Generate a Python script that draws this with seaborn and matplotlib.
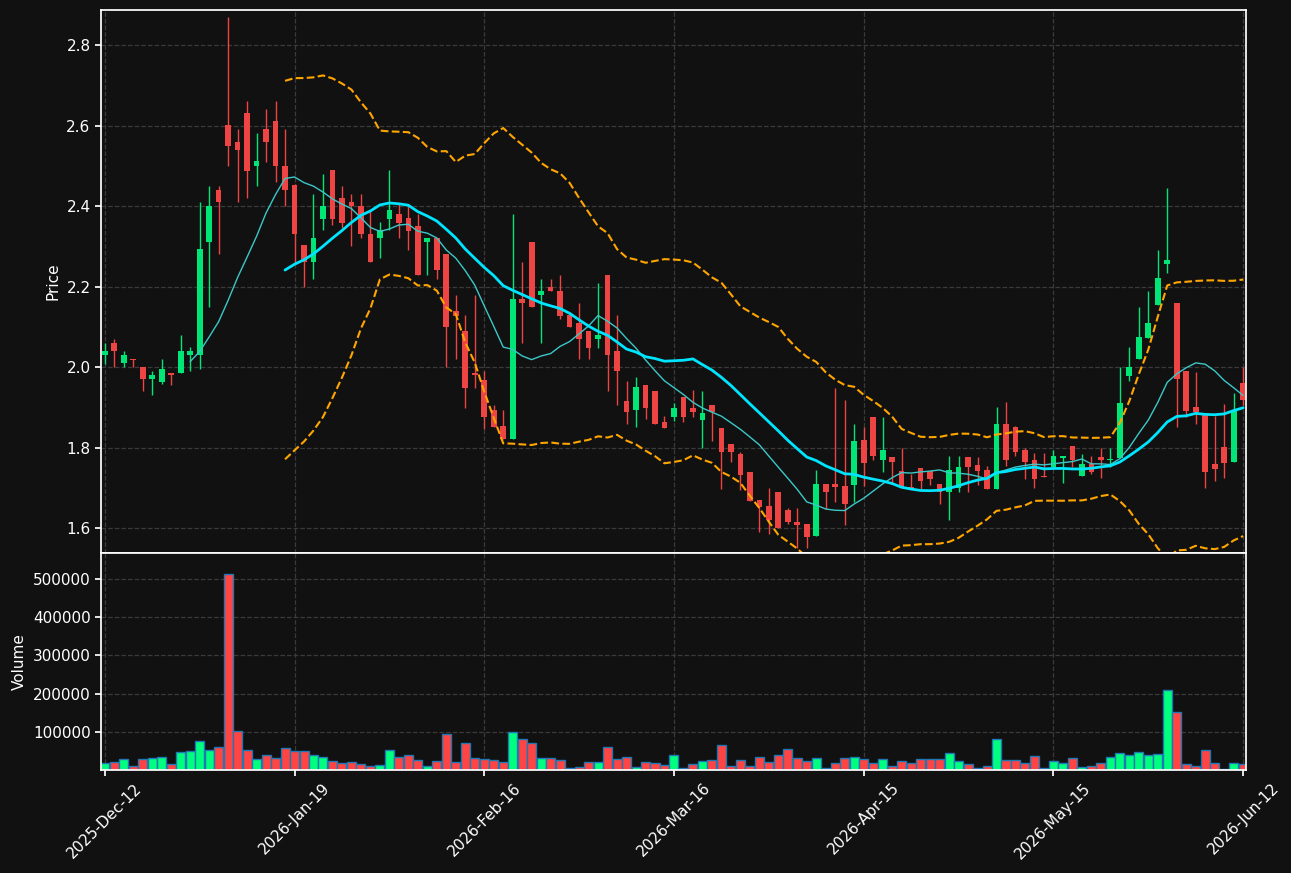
import numpy as np
import pandas as pd
import matplotlib
matplotlib.use("Agg")
import matplotlib.pyplot as plt
import seaborn as sns

opens = [2.029,2.059,2.009,2.020,2.000,1.970,1.964,1.986,1.984,2.029,
         2.029,2.310,2.440,2.602,2.560,2.632,2.499,2.592,2.612,2.500,
         2.451,2.302,2.260,2.369,2.490,2.421,2.411,2.401,2.331,2.320,
         2.369,2.381,2.371,2.351,2.310,2.321,2.281,2.139,2.090,1.986,
         1.967,1.893,1.854,1.822,2.170,2.311,2.178,2.200,2.190,2.130,
         2.110,2.090,2.069,2.228,2.040,1.916,1.893,1.956,1.941,1.864,
         1.877,1.925,1.899,1.869,1.906,1.849,1.810,1.785,1.739,1.670,
         1.656,1.690,1.645,1.615,1.610,1.579,1.710,1.710,1.705,1.706,
         1.819,1.876,1.768,1.776,1.742,1.703,1.749,1.742,1.710,1.689,
         1.700,1.776,1.756,1.744,1.697,1.858,1.851,1.793,1.769,1.730,
         1.751,1.775,1.804,1.730,1.760,1.776,1.768,1.773,1.978,2.019,
         2.072,2.153,2.255,2.160,1.991,1.901,1.880,1.760,1.802,1.765,1.961]
highs = [2.059,2.070,2.040,2.021,2.000,1.990,2.021,1.986,2.080,2.049,
         2.411,2.450,2.450,2.870,2.591,2.661,2.582,2.641,2.661,2.591,
         2.455,2.300,2.430,2.480,2.490,2.450,2.430,2.430,2.387,2.360,
         2.489,2.405,2.399,2.380,2.321,2.321,2.281,2.179,2.130,2.179,
         1.990,1.906,1.893,2.381,2.261,2.311,2.219,2.219,2.228,2.130,
         2.158,2.090,2.209,2.228,2.130,1.965,1.975,1.956,1.941,1.879,
         1.910,1.925,1.944,1.941,1.906,1.849,1.810,1.788,1.739,1.670,
         1.699,1.690,1.650,1.650,1.610,1.745,1.710,1.949,1.918,1.858,
         1.850,1.876,1.877,1.776,1.800,1.734,1.749,1.742,1.710,1.780,
         1.780,1.776,1.776,1.754,1.901,1.913,1.854,1.798,1.786,1.786,
         1.795,1.780,1.804,1.783,1.780,1.800,1.800,2.000,2.049,2.149,
         2.188,2.291,2.445,2.160,1.991,1.987,1.880,1.878,1.908,1.935,2.000]
lows = [2.008,2.000,2.000,2.000,1.941,1.930,1.959,1.955,1.984,1.990,
        1.995,2.149,2.280,2.500,2.410,2.419,2.450,2.509,2.460,2.400,
        2.256,2.199,2.219,2.340,2.353,2.345,2.300,2.320,2.260,2.270,
        2.340,2.320,2.290,2.228,2.228,2.219,2.000,2.020,1.897,1.949,
        1.847,1.852,1.822,1.822,2.060,2.149,2.060,2.188,2.120,2.099,
        2.020,2.020,2.048,1.941,1.906,1.859,1.852,1.872,1.858,1.848,
        1.867,1.864,1.877,1.800,1.817,1.698,1.763,1.694,1.668,1.589,
        1.584,1.600,1.609,1.550,1.550,1.579,1.647,1.665,1.608,1.665,
        1.704,1.769,1.740,1.713,1.703,1.699,1.697,1.707,1.660,1.620,
        1.689,1.689,1.707,1.696,1.697,1.754,1.780,1.721,1.699,1.727,
        1.751,1.713,1.751,1.730,1.734,1.725,1.751,1.773,1.965,2.019,
        2.072,2.153,2.233,1.852,1.876,1.858,1.699,1.717,1.725,1.765,1.906]
closes = [2.041,2.039,2.030,2.018,1.970,1.981,1.995,1.979,2.041,2.041,
          2.292,2.401,2.409,2.548,2.538,2.488,2.511,2.559,2.499,2.439,
          2.330,2.260,2.321,2.401,2.369,2.359,2.399,2.330,2.260,2.340,
          2.391,2.359,2.339,2.228,2.321,2.240,2.099,2.128,1.949,1.980,
          1.877,1.852,1.822,2.170,2.158,2.149,2.190,2.188,2.128,2.099,
          2.069,2.048,2.080,2.029,1.990,1.888,1.950,1.897,1.858,1.848,
          1.899,1.877,1.888,1.886,1.888,1.788,1.788,1.733,1.668,1.653,
          1.619,1.600,1.614,1.608,1.578,1.710,1.689,1.703,1.660,1.817,
          1.761,1.778,1.793,1.763,1.703,1.699,1.718,1.723,1.689,1.745,
          1.752,1.752,1.742,1.696,1.858,1.768,1.790,1.763,1.721,1.727,
          1.780,1.780,1.768,1.760,1.738,1.768,1.772,1.911,2.000,2.075,
          2.110,2.220,2.267,1.970,1.890,1.888,1.739,1.747,1.761,1.893,1.918]
volumes = [19000,21600,29400,10400,29400,32000,34600,16400,47600,50200,
           76100,52800,60500,512000,102000,52800,29400,39800,32000,58000,
           50200,50200,39800,34600,24200,19000,21600,16400,11200,13800,
           52800,34600,39800,26800,11200,24200,94300,21600,71000,32000,
           29400,26800,21600,99500,81300,71000,32000,32000,26800,6000,
           8600,21600,21600,60500,29400,34600,8600,21600,19000,13800,
           39800,6000,16400,24200,26800,65700,11200,26800,11200,34600,
           21600,39800,55400,32000,24200,32000,6000,19000,32000,34600,
           29400,19000,29400,11200,24200,19000,29400,29400,29400,45000,
           24200,16400,6000,11200,81300,26800,26800,19000,37200,6000,
           24200,19000,32000,8600,11200,19000,34600,45000,39800,47600,
           39800,42400,208500,151400,16400,11200,52800,19000,3500,19000,16400]
tick_labels = ["2025-Dec-12", "2026-Jan-19", "2026-Feb-16", "2026-Mar-16",
               "2026-Apr-15", "2026-May-15", "2026-Jun-12"]
tick_pos = [0, 20, 40, 60, 80, 100, 120]

df = pd.DataFrame({"o": opens, "h": highs, "l": lows, "c": closes, "v": volumes})
df["x"] = np.arange(len(df))
df["ma10"] = df["c"].rolling(10).mean()
df["ma20"] = df["c"].rolling(20).mean()
sd = df["c"].rolling(20).std(ddof=0)
df["bu"] = df["ma20"] + 2 * sd
df["bl"] = df["ma20"] - 2 * sd
up = df["c"] >= df["o"]

sns.set_theme(style="dark")
bg = "#111111"
plt.rcParams.update({"figure.facecolor": bg, "axes.facecolor": bg,
                     "axes.edgecolor": "white", "text.color": "white",
                     "axes.labelcolor": "white", "xtick.color": "white",
                     "ytick.color": "white"})
plt.rcParams["font.family"] = ["DejaVu Sans"]

fig = plt.figure(figsize=(12.91, 8.73), dpi=100)
ax = fig.add_axes([101/1291, 1-553/873, 1145/1291, 543/873])
axv = fig.add_axes([101/1291, 1-770/873, 1145/1291, 217/873], sharex=ax)

gc = "#3a3a3a"
for a in (ax, axv):
    a.grid(True, color=gc, linestyle="--", linewidth=0.9)
    a.tick_params(axis="both", colors="white", labelsize=11, length=4, left=True, bottom=True)
    for s in a.spines.values():
        s.set_color("white")

G, R = "#00e676", "#ef4444"
cols = np.where(up, G, R)
ax.vlines(df["x"], df["l"], df["h"], colors=cols, linewidth=1)
body_lo = np.minimum(df["o"], df["c"])
body_h = np.maximum(np.abs(df["c"] - df["o"]), 0.003)
ax.bar(df["x"], body_h, bottom=body_lo, width=0.6, color=cols, linewidth=0)

sns.lineplot(data=df, x="x", y="bu", ax=ax, color="#ffa500", linestyle="--", linewidth=1.5)
sns.lineplot(data=df, x="x", y="bl", ax=ax, color="#ffa500", linestyle="--", linewidth=1.5)
sns.lineplot(data=df, x="x", y="ma10", ax=ax, color="#3cc8c8", linewidth=1)
sns.lineplot(data=df, x="x", y="ma20", ax=ax, color="#00e5ff", linewidth=2)

ax.set_ylim(1.538, 2.887)
ax.set_xlim(-0.4, 120.3)
ax.set_ylabel("Price", fontsize=11)
ax.set_xlabel("")
plt.setp(ax.get_xticklabels(), visible=False)

vcols = np.where(up, "#00ff7f", "#ff4444")
axv.bar(df["x"], df["v"], width=0.95, color=vcols, edgecolor="#1f77b4", linewidth=1)
axv.set_ylim(0, 568000)
axv.set_yticks([100000, 200000, 300000, 400000, 500000])
axv.set_yticklabels(["100000", "200000", "300000", "400000", "500000"])
axv.set_ylabel("Volume", fontsize=11)
axv.set_xticks(tick_pos)
axv.set_xticklabels(tick_labels, rotation=45, fontsize=11)
axv.set_xlim(-0.4, 120.3)

fig.savefig("out.png", dpi=100, facecolor=bg)
